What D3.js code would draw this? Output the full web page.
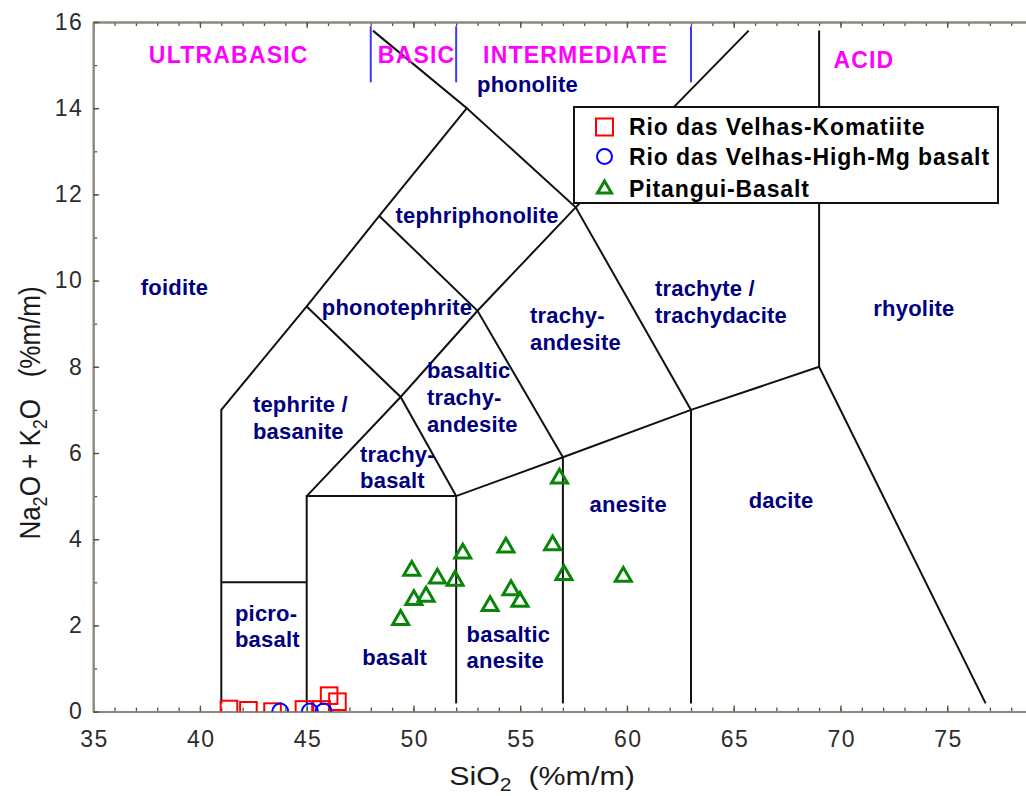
<!DOCTYPE html>
<html>
<head>
<meta charset="utf-8">
<script src="https://cdn.jsdelivr.net/npm/d3@7"></script>
<style>
  body { margin: 0; background: #fff; }
  text { font-family: Arial, "Liberation Sans", sans-serif; }
</style>
</head>
<body>
<svg id="chart" width="1026" height="796"></svg>
<script>
// ---- Sample analyses: SiO2 and total alkalis (Na2O + K2O), wt% ----
const komatiiteSiO2 = [41.36, 42.27, 43.40, 44.87, 45.70, 46.05, 46.44];
const komatiiteAlk  = [0.06, 0.03, 0.00, 0.05, 0.05, 0.37, 0.23];

const highMgSiO2 = [43.76, 45.15, 45.79];
const highMgAlk  = [0.00, 0.00, 0.00];

const pitanguiSiO2 = [49.92, 51.12, 51.95, 52.31, 54.33, 56.52, 57.05, 59.83,
                      54.57, 54.99, 53.59, 50.59, 50.02, 49.40, 56.84];
const pitanguiAlk  = [3.27, 3.09, 3.04, 3.67, 3.81, 3.86, 3.17, 3.13,
                      2.82, 2.55, 2.45, 2.67, 2.59, 2.13, 5.41];

const seriesNames = ["Rio das Velhas-Komatiite", "Rio das Velhas-High-Mg basalt", "Pitangui-Basalt"];

const xTickLabels = [35, 40, 45, 50, 55, 60, 65, 70, 75];
const yTickLabels = [0, 2, 4, 6, 8, 10, 12, 14, 16];

// ---- TAS field boundaries (SiO2, Na2O+K2O) ----
const fieldBoundaries = [
  [[41, 0.19], [41, 7], [45, 9.4], [48.4, 11.5], [52.5, 14], [48.1, 15.8]],
  [[41, 3], [45, 3]],
  [[45, 0.19], [45, 5], [52, 5], [57, 5.9], [63, 7], [69, 8], [76.8, 0.19]],
  [[52, 0.19], [52, 5]],
  [[57, 0.19], [57, 5.9]],
  [[63, 0.19], [63, 7]],
  [[69, 8], [69, 15.8]],
  [[45, 5], [49.4, 7.3], [53, 9.3], [57.6, 11.7], [65.7, 15.8]],
  [[45, 9.4], [49.4, 7.3], [52, 5]],
  [[48.4, 11.5], [53, 9.3], [57, 5.9]],
  [[52.5, 14], [57.6, 11.7], [63, 7]]
];

// Silica saturation class limits (SiO2 wt%)
const classLimits = [48, 52, 63];
const classNames = ["ULTRABASIC", "BASIC", "INTERMEDIATE", "ACID"];
const classNameSiO2 = [41.35, 50.15, 57.6, 71.1];

// Rock field names (lines of text) and their anchor points in diagram units
const fieldNames = [
  ["phonolite"], ["tephriphonolite"], ["foidite"], ["phonotephrite"],
  ["tephrite /", "basanite"], ["basaltic", "trachy-", "andesite"],
  ["trachy-", "basalt"], ["trachy-", "andesite"], ["trachyte /", "trachydacite"],
  ["rhyolite"], ["anesite"], ["dacite"], ["picro-", "basalt"], ["basalt"],
  ["basaltic", "anesite"]
];
const fieldNameAnchor = [
  [55.34, 14.38, "middle"], [52.98, 11.34, "middle"], [38.81, 9.67, "middle"],
  [49.23, 9.20, "middle"], [42.48, 6.95, "start"], [50.63, 7.73, "start"],
  [47.50, 5.80, "start"], [55.46, 9.01, "start"], [61.31, 9.64, "start"],
  [73.44, 9.18, "middle"], [60.06, 4.62, "middle"], [67.22, 4.72, "middle"],
  [41.64, 2.11, "start"], [49.12, 1.08, "middle"], [52.49, 1.62, "start"]
];

// ---- Layout ----
const svg = d3.select("#chart");
const W = 1026, H = 796;
svg.append("rect").attr("width", W).attr("height", H).attr("fill", "#fff");

const x = d3.scaleLinear().domain([35, 80]).range([93.2, 93.2 + 45 * 21.35]);
const y = d3.scaleLinear().domain([0, 16]).range([711.6, 22]);

const axisColor = "#8a8a7e";
const tickFont = 23;

svg.append("defs").append("clipPath").attr("id", "plotClip")
  .append("rect").attr("x", x(35)).attr("y", y(16)).attr("width", W - x(35)).attr("height", y(0) - y(16));

// ---- Field boundary lines ----
const line = d3.line().x(d => x(d[0])).y(d => y(d[1]));
svg.append("g").selectAll("path").data(fieldBoundaries).join("path")
  .attr("d", line).attr("fill", "none").attr("stroke", "#111")
  .attr("stroke-width", 2).attr("stroke-linejoin", "miter");

// ---- Silica class limits and names ----
svg.append("g").selectAll("line").data(classLimits).join("line")
  .attr("x1", d => x(d)).attr("x2", d => x(d))
  .attr("y1", y(15.9)).attr("y2", y(14.6))
  .attr("stroke", "#3a3aff").attr("stroke-width", 2);

svg.append("g").selectAll("text").data(classNames).join("text")
  .attr("x", (d, i) => x(classNameSiO2[i]))
  .attr("y", (d, i) => y(i === 3 ? 14.93 : 15.04))
  .attr("text-anchor", "middle")
  .attr("font-size", 23).attr("font-weight", "bold").attr("fill", "#ff00ff")
  .attr("letter-spacing", 1.2)
  .text(d => d);

// ---- Rock field names ----
const nameG = svg.append("g");
fieldNames.forEach((lines, i) => {
  const [sx, ay, anchor] = fieldNameAnchor[i];
  const t = nameG.append("text")
    .attr("x", x(sx)).attr("y", y(ay))
    .attr("text-anchor", anchor)
    .attr("font-size", 22).attr("font-weight", "bold").attr("fill", "#00007f")
    .attr("letter-spacing", 0.2);
  lines.forEach((s, k) => {
    t.append("tspan").attr("x", x(sx)).attr("dy", k === 0 ? 0 : 26.6).text(s);
  });
});

// ---- Axes ----
function styleAxis(g) {
  g.select(".domain").attr("stroke", axisColor).attr("stroke-width", 2);
  g.selectAll(".tick line").attr("stroke", "#55553f").attr("stroke-width", 1.3);
  g.selectAll(".tick text").attr("fill", "#2c2c2c").attr("font-size", tickFont)
    .attr("font-family", "Arial, 'Liberation Sans', sans-serif")
    .attr("letter-spacing", 1.4);
}
const minorX = d3.range(35, 79);
const minorY = d3.range(0, 17);

svg.append("g").attr("transform", `translate(0,${y(0)})`)
  .call(d3.axisBottom(x).tickValues(minorX).tickSize(-4).tickSizeOuter(0).tickFormat(""))
  .call(styleAxis);
svg.append("g").attr("transform", `translate(0,${y(0)})`)
  .call(d3.axisBottom(x).tickValues(xTickLabels).tickSize(-6).tickSizeOuter(0).tickPadding(19).tickFormat(d3.format("d")))
  .call(styleAxis)
  .call(g => g.selectAll(".tick text").attr("dx", 0.7));

svg.append("g").attr("transform", `translate(0,${y(16)})`)
  .call(d3.axisTop(x).tickValues(minorX).tickSize(-4).tickSizeOuter(0).tickFormat(""))
  .call(styleAxis);
svg.append("g").attr("transform", `translate(0,${y(16)})`)
  .call(d3.axisTop(x).tickValues(xTickLabels).tickSize(-6).tickSizeOuter(0).tickFormat(""))
  .call(styleAxis);

svg.append("g").attr("transform", `translate(${x(35)},0)`)
  .call(d3.axisLeft(y).tickValues(minorY).tickSize(-4).tickSizeOuter(0).tickFormat(""))
  .call(styleAxis);
svg.append("g").attr("transform", `translate(${x(35)},0)`)
  .call(d3.axisLeft(y).tickValues(yTickLabels).tickSize(-6).tickSizeOuter(0).tickPadding(10).tickFormat(d3.format("d")))
  .call(styleAxis);

// ---- Axis titles ----
const xt = svg.append("text").attr("transform", "translate(542,785) scale(1.17,1)")
  .attr("text-anchor", "middle").attr("font-size", 26).attr("fill", "#1a1a1a");
xt.append("tspan").text("SiO");
xt.append("tspan").attr("font-size", 18).attr("dy", 6).text("2");
xt.append("tspan").attr("dy", -6).text("\u00a0\u00a0(%m/m)");

const yt = svg.append("text").attr("transform", "translate(40,413) scale(1.17,1) rotate(-90)")
  .attr("text-anchor", "middle").attr("font-size", 26).attr("fill", "#1a1a1a");
yt.append("tspan").text("Na");
yt.append("tspan").attr("font-size", 18).attr("dy", 6).text("2");
yt.append("tspan").attr("dy", -6).text("O + K");
yt.append("tspan").attr("font-size", 18).attr("dy", 6).text("2");
yt.append("tspan").attr("dy", -6).text("O\u00a0\u00a0\u00a0(%m/m)");

// ---- Sample markers ----
const plot = svg.append("g").attr("clip-path", "url(#plotClip)");
const triPath = (s) => {
  const h = s * Math.sqrt(3) / 2;
  return `M0,${-2 * h / 3}L${s / 2},${h / 3}L${-s / 2},${h / 3}Z`;
};

plot.append("g").selectAll("rect").data(komatiiteSiO2).join("rect")
  .attr("x", (d, i) => x(d) - 8.3).attr("y", (d, i) => y(komatiiteAlk[i]) - 8.3)
  .attr("width", 16.6).attr("height", 16.6)
  .attr("fill", "none").attr("stroke", "#ff0000").attr("stroke-width", 2);

plot.append("g").selectAll("circle").data(highMgSiO2).join("circle")
  .attr("cx", d => x(d)).attr("cy", (d, i) => y(highMgAlk[i])).attr("r", 8)
  .attr("fill", "none").attr("stroke", "#0000ff").attr("stroke-width", 2);

plot.append("g").selectAll("path").data(pitanguiSiO2).join("path")
  .attr("transform", (d, i) => `translate(${x(d)},${y(pitanguiAlk[i])})`)
  .attr("d", triPath(16))
  .attr("fill", "none").attr("stroke", "#0a850a").attr("stroke-width", 3).attr("stroke-linejoin", "miter");

// ---- Legend ----
const lg = svg.append("g").attr("transform", "translate(574,107)");
lg.append("rect").attr("width", 424).attr("height", 96)
  .attr("fill", "#fff").attr("stroke", "#111").attr("stroke-width", 2);
const rowY = [20, 49.5, 82];
lg.append("rect").attr("x", 22).attr("y", rowY[0] - 8.5).attr("width", 17).attr("height", 17)
  .attr("fill", "none").attr("stroke", "#ff0000").attr("stroke-width", 2);
lg.append("circle").attr("cx", 30.5).attr("cy", rowY[1]).attr("r", 7.5)
  .attr("fill", "none").attr("stroke", "#0000ff").attr("stroke-width", 2);
lg.append("path").attr("transform", `translate(30.5,${rowY[2]})`).attr("d", triPath(14))
  .attr("fill", "none").attr("stroke", "#0a850a").attr("stroke-width", 3);
lg.selectAll("text.item").data(seriesNames).join("text").attr("class", "item")
  .attr("x", 55).attr("y", (d, i) => rowY[i] + 8)
  .attr("font-size", 23).attr("font-weight", "bold").attr("fill", "#000")
  .attr("letter-spacing", 0.9)
  .text(d => d);
</script>
</body>
</html>
